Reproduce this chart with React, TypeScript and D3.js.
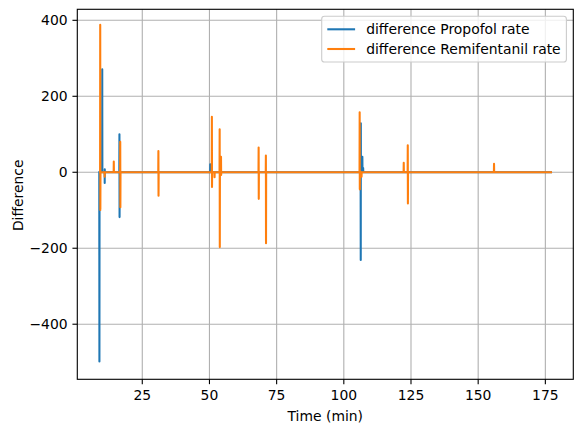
import React from "react";
import * as d3 from "d3";

// Time (min) / difference values for each series (spikes on a zero baseline)
const propofolTime = [9.0, 9.05, 9.1, 10.05, 10.1, 10.12, 10.15, 11.0, 11.02, 11.04, 11.06, 16.45, 16.5, 16.55, 16.6, 50.25, 50.3, 50.35, 106.25, 106.3, 106.33, 106.36, 106.85, 106.9, 106.95, 107.2, 107.25, 177.1];
const propofolDiff = [0, -498, 0, 0, 271, 137, 0, 0, -28, 8, 0, 0, 100, -118, 0, 0, 21, 0, 0, -231, 129, 0, 0, 41, 0, 11, 0, 0];

const remiTime = [9.3, 9.35, 9.4, 9.45, 10.95, 11.0, 11.05, 14.35, 14.4, 14.45, 16.75, 16.8, 16.85, 16.9, 30.95, 31.0, 31.05, 31.1, 50.85, 50.9, 50.95, 51.0, 51.85, 51.9, 51.95, 53.75, 53.8, 53.85, 53.9, 54.25, 54.3, 54.35, 54.4, 68.25, 68.3, 68.35, 68.4, 70.95, 71.0, 71.05, 71.1, 105.85, 105.9, 105.95, 106.0, 106.55, 106.6, 106.65, 122.25, 122.3, 122.35, 123.75, 123.8, 123.85, 123.9, 155.85, 155.9, 155.95, 177.1];
const remiDiff = [0, 388, -99, 0, 0, -12, 0, 0, 28, 0, 0, 80, -92, 0, 0, 56, -62, 0, 0, 146, -39, 0, 0, -13, 0, 0, 113, -197, 0, 0, 41, -7, 0, 0, 65, -70, 0, 0, 44, -187, 0, 0, 158, -45, 0, 0, -12, 0, 0, 25, 0, 0, 71, -82, 0, 0, 22, 0, 0];

const xTicks = [25, 50, 75, 100, 125, 150, 175];
const yTicks = [-400, -200, 0, 200, 400];
const seriesNames = ["difference Propofol rate", "difference Remifentanil rate"];
const seriesColors = ["#1f77b4", "#ff7f0e"];

const W = 583;
const H = 432;
const L = 77.3, R = 573.3, T = 9.3, B = 379.3;
const FONT = "'DejaVu Sans', sans-serif";
const FS = 13.9;

function fmt(v: number) {
  return v < 0 ? "\u2212" + Math.abs(v) : String(v);
}

export default function App() {
  const x = d3.scaleLinear().domain([0.82, 185.4]).range([L, R]);
  const y = d3.scaleLinear().domain([-545, 429]).range([B, T]);
  const line = d3
    .line<[number, number]>()
    .x((d) => x(d[0]))
    .y((d) => y(d[1]));
  const series = [
    propofolTime.map((t, i) => [t, propofolDiff[i]] as [number, number]),
    remiTime.map((t, i) => [t, remiDiff[i]] as [number, number]),
  ];
  const tickLen = 4.86;
  const pad = 4.86;
  const legX = 321.7, legY = 16.3, legW = 244.7, legH = 45.7;

  return (
    <div style={{ position: "fixed", left: 0, top: 0 }}>
      <svg width={W} height={H} style={{ display: "block", background: "#fff" }} fontFamily={FONT}>
        <defs>
          <clipPath id="plotclip">
            <rect x={L} y={T} width={R - L} height={B - T} />
          </clipPath>
        </defs>
        {/* grid */}
        {xTicks.map((t) => (
          <line key={"gx" + t} x1={x(t)} x2={x(t)} y1={T} y2={B} stroke="#b0b0b0" strokeWidth={1.11} />
        ))}
        {yTicks.map((t) => (
          <line key={"gy" + t} x1={L} x2={R} y1={y(t)} y2={y(t)} stroke="#b0b0b0" strokeWidth={1.11} />
        ))}
        {/* data */}
        <g clipPath="url(#plotclip)">
          {series.map((s, i) => (
            <path key={i} d={line(s) || ""} fill="none" stroke={seriesColors[i]} strokeWidth={2.08} strokeLinejoin="round" strokeLinecap="square" />
          ))}
        </g>
        {/* spines */}
        <rect x={L} y={T} width={R - L} height={B - T} fill="none" stroke="#000" strokeWidth={1.11} />
        {/* x ticks */}
        {xTicks.map((t) => (
          <g key={"xt" + t}>
            <line x1={x(t)} x2={x(t)} y1={B} y2={B + tickLen} stroke="#000" strokeWidth={1.11} />
            <text x={x(t)} y={B + tickLen + pad + 10.6} textAnchor="middle" fontSize={FS} fill="#000">
              {fmt(t)}
            </text>
          </g>
        ))}
        {/* y ticks */}
        {yTicks.map((t) => (
          <g key={"yt" + t}>
            <line x1={L - tickLen} x2={L} y1={y(t)} y2={y(t)} stroke="#000" strokeWidth={1.11} />
            <text x={L - tickLen - pad} y={y(t)} dy="0.36em" textAnchor="end" fontSize={FS} fill="#000">
              {fmt(t)}
            </text>
          </g>
        ))}
        {/* axis labels */}
        <text x={(L + R) / 2} y={420.5} textAnchor="middle" fontSize={FS} fill="#000">
          Time (min)
        </text>
        <text transform={`translate(22.6,${(T + B) / 2 + 1}) rotate(-90)`} textAnchor="middle" fontSize={FS} fill="#000">
          Difference
        </text>
        {/* legend */}
        <rect x={legX} y={legY} width={legW} height={legH} rx={2.8} fill="#fff" fillOpacity={0.8} stroke="#cccccc" strokeWidth={1.11} />
        {seriesNames.map((n, i) => {
          const cy = legY + 13 + i * 19.7;
          return (
            <g key={n}>
              <line x1={legX + 5.6} x2={legX + 5.6 + 27.8} y1={cy} y2={cy} stroke={seriesColors[i]} strokeWidth={2.08} />
              <text x={legX + 5.6 + 27.8 + 11.1} y={cy} dy="0.36em" fontSize={FS} fill="#000">
                {n}
              </text>
            </g>
          );
        })}
      </svg>
    </div>
  );
}
